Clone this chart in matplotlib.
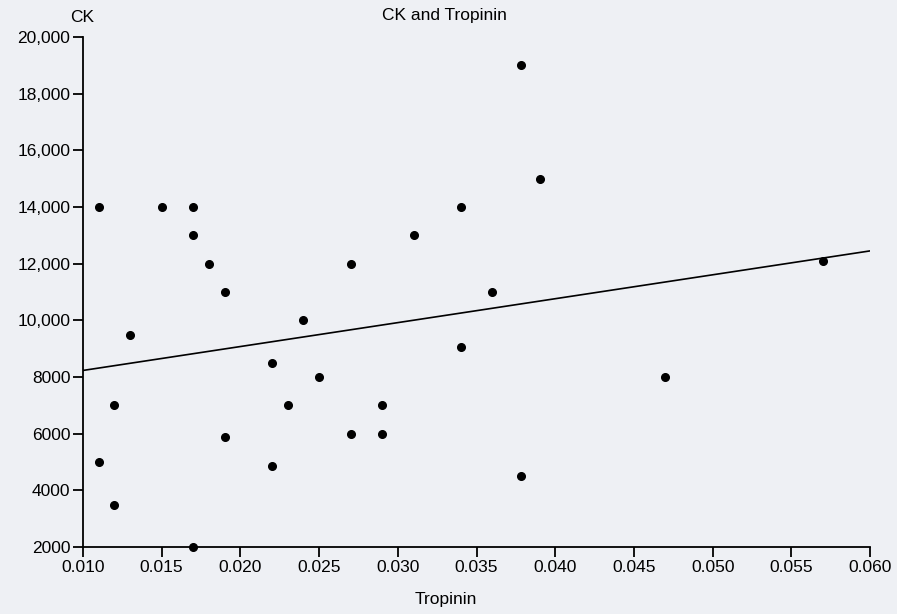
import matplotlib
matplotlib.use("Agg")
import matplotlib.pyplot as plt
from matplotlib.ticker import FuncFormatter, MultipleLocator

plt.rcParams['font.family'] = ['Liberation Sans', 'DejaVu Sans']

# Data
tropinin = [0.011, 0.011, 0.012, 0.012, 0.013, 0.015, 0.017, 0.017, 0.017, 0.018,
            0.019, 0.019, 0.022, 0.022, 0.023, 0.024, 0.025, 0.027, 0.027, 0.029,
            0.029, 0.031, 0.034, 0.034, 0.036, 0.0378, 0.0378, 0.039, 0.047, 0.057]
ck = [14000, 5000, 7000, 3500, 9500, 14000, 14000, 13000, 2000, 12000,
      11000, 5900, 8500, 4850, 7000, 10000, 8000, 12000, 6000, 7000,
      6000, 13000, 14000, 9050, 11000, 19000, 4500, 15000, 8000, 12100]

# Regression line endpoints as drawn in the chart
fit_x = [0.010, 0.060]
fit_y = [8235, 12455]

bg = '#eef0f4'
fig = plt.figure(figsize=(8.97, 6.14), dpi=100, facecolor=bg)
ax = fig.add_axes([0.0925, 0.109, 0.8775, 0.8305])
ax.set_facecolor(bg)

ax.plot(fit_x, fit_y, color='black', linewidth=1.2, zorder=2)
ax.plot(tropinin, ck, linestyle='none', marker='o', markersize=5.5,
        color='black', zorder=3, clip_on=False)

ax.set_xlim(0.010, 0.060)
ax.set_ylim(2000, 20000)
ax.xaxis.set_major_locator(MultipleLocator(0.005))
ax.yaxis.set_major_locator(MultipleLocator(2000))
ax.xaxis.set_major_formatter(FuncFormatter(lambda v, p: f"{v:.3f}"))
ax.yaxis.set_major_formatter(
    FuncFormatter(lambda v, p: f"{v:,.0f}" if v >= 10000 else f"{v:.0f}"))

for side in ['top', 'right']:
    ax.spines[side].set_visible(False)
for side in ['left', 'bottom']:
    ax.spines[side].set_linewidth(1.3)
ax.tick_params(direction='out', length=7, width=1.3, labelsize=12.5,
               colors='black', pad=2)

fig.text(0.495, 0.975, 'CK and Tropinin', ha='center', va='center', fontsize=12.5)
fig.text(0.091, 0.972, 'CK', ha='center', va='center', fontsize=12.5)
fig.text(0.497, 0.023, 'Tropinin', ha='center', va='center', fontsize=12.5)

fig.savefig('out.png', dpi=100, facecolor=bg)
